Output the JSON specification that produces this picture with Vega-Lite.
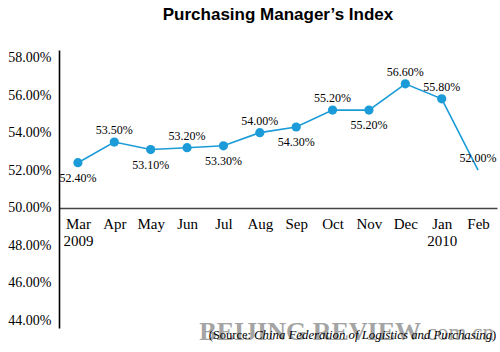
{
  "$schema": "https://vega.github.io/schema/vega-lite/v6.json",
  "width": 438,
  "height": 278,
  "autosize": {"type": "none"},
  "padding": {"left": 59, "top": 50, "right": 3, "bottom": 24},
  "background": "white",
  "config": {"view": {"stroke": null}},
  "title": {
    "text": "Purchasing Manager’s Index",
    "font": "Liberation Sans",
    "fontSize": 17,
    "fontWeight": "bold",
    "color": "#000000",
    "anchor": "middle",
    "frame": "group",
    "baseline": "alphabetic",
    "offset": 13
  },
  "data": {
    "values": [
      {"month": "Mar", "value": 0.524},
      {"month": "Apr", "value": 0.535},
      {"month": "May", "value": 0.531},
      {"month": "Jun", "value": 0.532},
      {"month": "Jul", "value": 0.533},
      {"month": "Aug", "value": 0.540},
      {"month": "Sep", "value": 0.543},
      {"month": "Oct", "value": 0.552},
      {"month": "Nov", "value": 0.552},
      {"month": "Dec", "value": 0.566},
      {"month": "Jan", "value": 0.558},
      {"month": "Feb", "value": 0.520}
    ]
  },
  "encoding": {
    "x": {
      "field": "month",
      "type": "ordinal",
      "sort": ["Mar", "Apr", "May", "Jun", "Jul", "Aug", "Sep", "Oct", "Nov", "Dec", "Jan", "Feb"],
      "scale": {"type": "point", "padding": 0.52},
      "axis": {
        "title": null,
        "offset": -120,
        "domain": true,
        "domainColor": "#444444",
        "domainWidth": 1.5,
        "ticks": false,
        "labelAngle": 0,
        "labelFont": "Liberation Serif",
        "labelFontSize": 15,
        "labelColor": "#000000",
        "labelPadding": 8,
        "labelLineHeight": 17,
        "labelExpr": "datum.value == 'Mar' ? ['Mar', '2009'] : datum.value == 'Jan' ? ['Jan', '2010'] : datum.value"
      }
    },
    "y": {
      "field": "value",
      "type": "quantitative",
      "scale": {"domain": [0.436, 0.584], "nice": false, "zero": false},
      "axis": {
        "title": null,
        "values": [0.44, 0.46, 0.48, 0.50, 0.52, 0.54, 0.56, 0.58],
        "format": ".2%",
        "grid": false,
        "ticks": false,
        "labelOverlap": false,
        "domain": true,
        "domainColor": "#000000",
        "domainWidth": 1.6,
        "labelFont": "Liberation Serif",
        "labelFontSize": 14,
        "labelColor": "#000000",
        "labelPadding": 8
      }
    }
  },
  "layer": [
    {
      "data": {"values": [
        {"note": "BEIJING REVIEW", "month": "Feb", "value": 0.4296}
      ]},
      "mark": {"type": "text", "font": "Liberation Serif", "fontSize": 26, "fontWeight": "bold", "color": "#a4a4a4", "align": "right", "baseline": "alphabetic", "dx": -57},
      "encoding": {"text": {"field": "note"}}
    },
    {
      "data": {"values": [
        {"note": ".com.cn", "month": "Feb", "value": 0.4296}
      ]},
      "mark": {"type": "text", "font": "Liberation Serif", "fontSize": 23, "color": "#a4a4a4", "align": "left", "baseline": "alphabetic", "dx": -57},
      "encoding": {"text": {"field": "note"}}
    },
    {
      "mark": {"type": "line", "color": "#1b9bd7", "strokeWidth": 1.6}
    },
    {
      "transform": [{"filter": "datum.month != 'Feb'"}],
      "mark": {"type": "point", "filled": true, "opacity": 1, "color": "#1b9bd7", "size": 85}
    },
    {
      "transform": [{"filter": {"field": "month", "oneOf": ["Apr", "Jun", "Aug", "Oct", "Dec", "Jan", "Feb"]}}],
      "mark": {"type": "text", "font": "Liberation Serif", "fontSize": 12, "color": "#000000", "baseline": "middle", "dy": -12},
      "encoding": {"text": {"field": "value", "format": ".2%"}}
    },
    {
      "transform": [{"filter": {"field": "month", "oneOf": ["Mar", "May", "Jul", "Sep", "Nov"]}}],
      "mark": {"type": "text", "font": "Liberation Serif", "fontSize": 12, "color": "#000000", "baseline": "middle", "dy": 15},
      "encoding": {"text": {"field": "value", "format": ".2%"}}
    },
    {
      "data": {"values": [
        {"note": "(Source:", "month": "Feb", "value": 0.43}
      ]},
      "mark": {"type": "text", "font": "Liberation Serif", "fontSize": 12.5, "color": "#000000", "align": "right", "baseline": "alphabetic", "dx": -227},
      "encoding": {"text": {"field": "note"}}
    },
    {
      "data": {"values": [
        {"note": "China Federation of Logistics and Purchasing", "month": "Feb", "value": 0.43}
      ]},
      "mark": {"type": "text", "font": "Liberation Serif", "fontSize": 12.8, "fontStyle": "italic", "color": "#000000", "align": "right", "baseline": "alphabetic", "dx": 14},
      "encoding": {"text": {"field": "note"}}
    },
    {
      "data": {"values": [
        {"note": ")", "month": "Feb", "value": 0.43}
      ]},
      "mark": {"type": "text", "font": "Liberation Serif", "fontSize": 12.5, "color": "#000000", "align": "right", "baseline": "alphabetic", "dx": 18},
      "encoding": {"text": {"field": "note"}}
    }
  ]
}
